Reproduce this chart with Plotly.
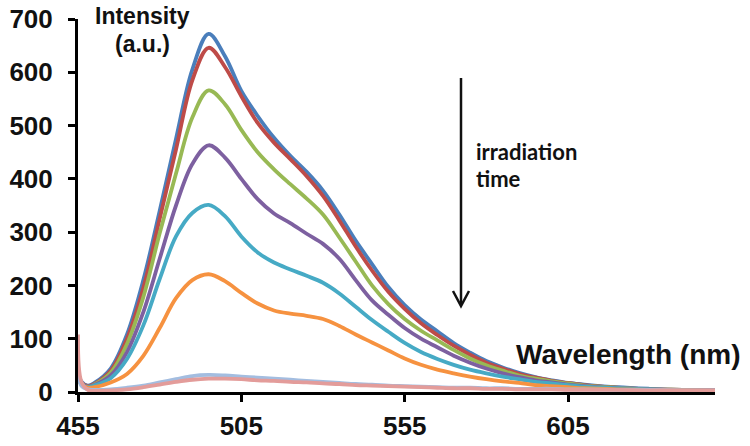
import plotly.graph_objects as go

wavelength = [455, 456, 458, 460, 465, 470, 475, 480, 485, 490, 495, 500, 505, 510, 515, 520, 525,
              530, 535, 540, 545, 550, 555, 560, 565, 570, 575, 580, 585, 590, 595, 600, 605,
              610, 620, 630, 640, 650]

s1_blue = [40, 20, 12, 17, 44, 108, 210, 340, 475, 605, 672, 630, 565, 518, 477, 443, 413,
           378, 333, 284, 240, 197, 163, 136, 114, 92, 74, 58, 46, 36, 28, 22, 17,
           14, 9, 6, 4, 3]
s2_red = [38, 18, 11, 15, 40, 100, 195, 325, 455, 585, 646, 610, 555, 505, 468, 437, 405,
          368, 322, 273, 228, 188, 156, 129, 107, 87, 70, 55, 44, 34, 27, 21, 17,
          13, 8, 5, 4, 3]
s3_green = [36, 17, 10, 14, 36, 90, 178, 298, 410, 515, 566, 540, 492, 450, 418, 390, 363,
            333, 290, 245, 200, 165, 137, 115, 97, 79, 63, 50, 40, 31, 25, 20, 16,
            12, 8, 5, 4, 3]
s4_purple = [35, 16, 10, 13, 31, 75, 150, 250, 350, 428, 463, 440, 400, 362, 335, 317, 297,
             278, 250, 210, 172, 145, 120, 100, 84, 68, 55, 44, 35, 28, 22, 18, 14,
             11, 7, 5, 3, 3]
s5_aqua = [34, 15, 9, 12, 26, 62, 125, 212, 292, 336, 351, 330, 292, 262, 243, 230, 218,
           205, 185, 160, 135, 113, 92, 75, 62, 51, 42, 35, 29, 24, 19, 16, 13,
           10, 7, 5, 3, 2]
s6_orange = [33, 14, 8, 9, 18, 34, 68, 120, 176, 210, 221, 208, 186, 166, 153, 147, 143,
             137, 124, 108, 93, 78, 63, 51, 42, 35, 29, 24, 20, 17, 13, 11, 9,
             7, 5, 4, 3, 2]
s7_lightblue = [40, 12, 5, 4, 5, 8, 12, 18, 24, 30, 32, 31, 29, 27, 25, 23, 21,
                19, 17, 15, 14, 12, 11, 10, 9, 8, 8, 7, 7, 6, 6, 6, 5,
                5, 4, 4, 3, 3]
s8_pink = [108, 20, 4, 2, 3, 5, 9, 14, 19, 23, 25, 25, 24, 22, 21, 19, 18,
           16, 15, 13, 12, 11, 10, 9, 8, 7, 7, 6, 6, 5, 5, 5, 4,
           4, 4, 3, 3, 3]

series = [s1_blue, s2_red, s3_green, s4_purple, s5_aqua, s6_orange, s7_lightblue, s8_pink]
colors = ["#4A7EBB", "#BE4B48", "#98B954", "#7D60A0", "#46AAC5", "#F69240", "#A3BDE0", "#E39C9A"]

x_ticks = [455, 505, 555, 605]
y_ticks = [0, 100, 200, 300, 400, 500, 600, 700]

fig = go.Figure()
for vals, col in zip(series, colors):
    fig.add_trace(go.Scatter(x=wavelength, y=vals, mode="lines",
                             line=dict(color=col, width=3.8, shape="spline", smoothing=1.0),
                             showlegend=False, hoverinfo="skip"))

W, H = 750, 446
# plot area in window pixels: x 78..715, y 19..392 (page body margin removed below)
L, T = 78, 19
pw, ph = 715 - 78, 392 - 19
R, B = W - L - pw, H - T - ph


def px(xp):
    return (xp - L) / pw


def py(yp):
    return (T + ph - yp) / ph


tickfont = dict(family="Liberation Sans, Arial, sans-serif", size=26, color="#111111", weight="bold")

fig.update_layout(
    width=W, height=H,
    margin=dict(l=L, r=R, t=T, b=B, autoexpand=False),
    paper_bgcolor="white", plot_bgcolor="white",
    showlegend=False,
    xaxis=dict(range=[455, 650], tickmode="array", tickvals=x_ticks, ticktext=[str(v) for v in x_ticks],
               showgrid=False, zeroline=False, showline=True, linecolor="black", linewidth=3,
               ticks="outside", ticklen=7, tickwidth=2.5, tickcolor="black", automargin=False,
               tickfont=tickfont, ticklabelstandoff=2, ticklabeloverflow="allow"),
    yaxis=dict(range=[0, 700], tickmode="array", tickvals=y_ticks, ticktext=[str(v) for v in y_ticks],
               showgrid=False, zeroline=False, showline=True, linecolor="black", linewidth=3,
               ticks="outside", ticklen=7, tickwidth=2.5, tickcolor="black", automargin=False,
               tickfont=tickfont, ticklabelstandoff=10, ticklabeloverflow="allow"),
)

label_font = dict(family="Liberation Sans, Arial, sans-serif", color="#111111", weight="bold")
fig.add_annotation(x=px(142), y=py(16), xref="paper", yref="paper", text="Intensity",
                   showarrow=False, font=dict(size=23, **label_font), xanchor="center", yanchor="middle")
fig.add_annotation(x=px(142), y=py(44), xref="paper", yref="paper", text="(a.u.)",
                   showarrow=False, font=dict(size=23, **label_font), xanchor="center", yanchor="middle")
fig.add_annotation(x=px(743), y=py(354), xref="paper", yref="paper", text="Wavelength (nm)",
                   showarrow=False, font=dict(size=28, **label_font), xanchor="right", yanchor="middle")

irr_font = dict(family="Lato, sans-serif", size=22, color="#111111", weight="bold")
fig.add_annotation(x=px(474), y=py(151), xref="paper", yref="paper", text="irradiation",
                   showarrow=False, font=irr_font, xanchor="left", yanchor="middle")
fig.add_annotation(x=px(474), y=py(179), xref="paper", yref="paper", text="time",
                   showarrow=False, font=irr_font, xanchor="left", yanchor="middle")

# arrow
ax_x, top_y, tip_y = 461, 78, 306
fig.add_shape(type="line", xref="paper", yref="paper", x0=px(ax_x), x1=px(ax_x), y0=py(top_y), y1=py(tip_y - 1),
              line=dict(color="#111111", width=2.5))
fig.add_shape(type="path", xref="paper", yref="paper",
              path=f"M {px(ax_x - 8)},{py(tip_y - 15)} L {px(ax_x)},{py(tip_y)} L {px(ax_x + 8)},{py(tip_y - 15)}",
              line=dict(color="#111111", width=2.5))

fig.write_html("out.html", config={"displayModeBar": False},
               post_script="document.body.style.margin='0px'; document.body.style.padding='0px';")
